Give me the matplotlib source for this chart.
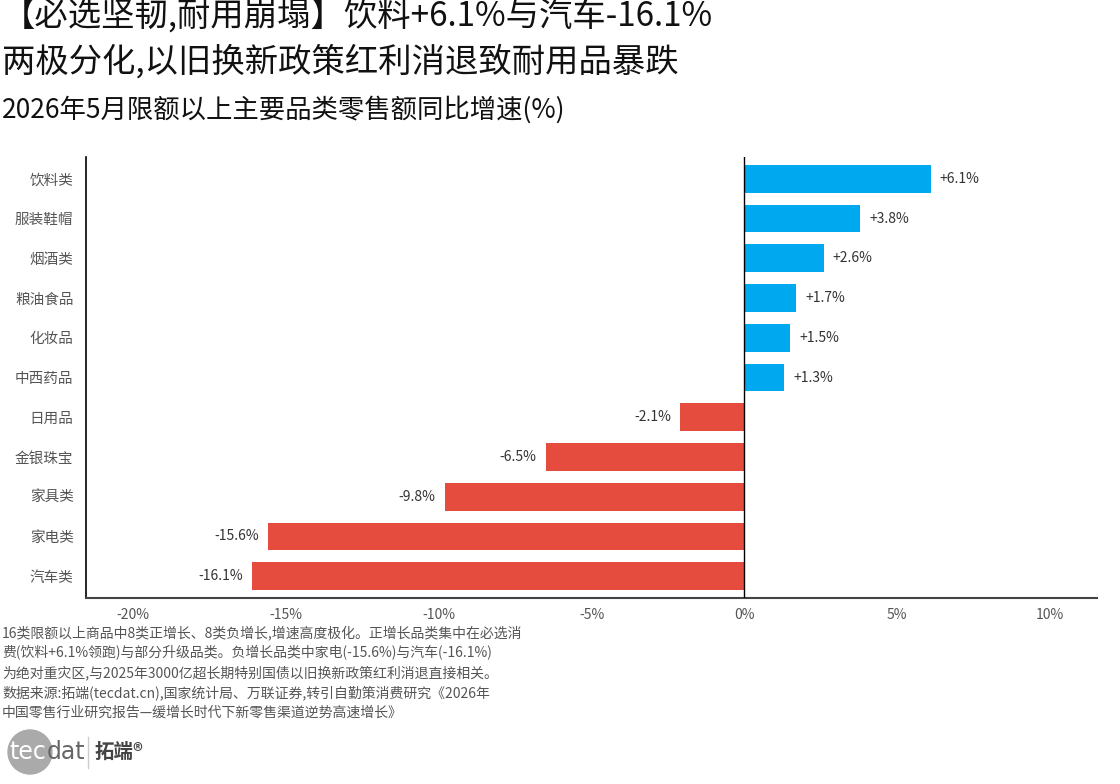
import matplotlib
matplotlib.use("Agg")
import matplotlib.pyplot as plt
from matplotlib.patches import Circle

plt.rcParams['font.family'] = ['Noto Sans CJK SC', 'DejaVu Sans']
plt.rcParams['axes.unicode_minus'] = False

categories = ["饮料类", "服装鞋帽", "烟酒类", "粮油食品", "化妆品", "中西药品",
              "日用品", "金银珠宝", "家具类", "家电类", "汽车类"]
values = [6.1, 3.8, 2.6, 1.7, 1.5, 1.3, -2.1, -6.5, -9.8, -15.6, -16.1]
xticks = [-20, -15, -10, -5, 0, 5, 10]
xticklabels = ["-20%", "-15%", "-10%", "-5%", "0%", "5%", "10%"]

title1 = "【必选坚韧,耐用崩塌】饮料+6.1%与汽车-16.1%"
title2 = "两极分化,以旧换新政策红利消退致耐用品暴跌"
subtitle = "2026年5月限额以上主要品类零售额同比增速(%)"
notes = ["16类限额以上商品中8类正增长、8类负增长,增速高度极化。正增长品类集中在必选消",
         "费(饮料+6.1%领跑)与部分升级品类。负增长品类中家电(-15.6%)与汽车(-16.1%)",
         "为绝对重灾区,与2025年3000亿超长期特别国债以旧换新政策红利消退直接相关。",
         "数据来源:拓端(tecdat.cn),国家统计局、万联证券,转引自勤策消费研究《2026年",
         "中国零售行业研究报告—缓增长时代下新零售渠道逆势高速增长》"]

BLUE = "#00A8F0"
RED = "#E64C3D"

W, H = 1120, 784
fig = plt.figure(figsize=(W / 100, H / 100), dpi=100)
ax = fig.add_axes([86 / W, 1 - 598 / H, (1097 - 86) / W, (598 - 157) / H])

ypos = list(range(len(categories)))
colors = [BLUE if v >= 0 else RED for v in values]
ax.barh(ypos, values, height=0.7, color=colors, zorder=2)
ax.set_ylim(len(categories) - 0.5 + 0.05, -0.5 - 0.05)
ax.set_xlim(-21.55, 11.55)
ax.axvline(0, color="black", lw=1.0, zorder=3)

for y, v in zip(ypos, values):
    lab = f"+{v:.1f}%" if v >= 0 else f"-{abs(v):.1f}%"
    if v >= 0:
        ax.text(v + 0.3, y, lab, ha="left", va="center", fontsize=10, color="#333333")
    else:
        ax.text(v - 0.3, y, lab, ha="right", va="center", fontsize=10, color="#333333")

ax.set_yticks(ypos)
ax.set_yticklabels(categories, fontsize=10.5, color="#555555")
ax.set_xticks(xticks)
ax.set_xticklabels(xticklabels, fontsize=10, color="#555555")
ax.tick_params(axis="both", length=0)
ax.tick_params(axis="y", pad=9)
ax.tick_params(axis="x", pad=7)
for s in ["top", "right"]:
    ax.spines[s].set_visible(False)
ax.spines["left"].set_color("black")
ax.spines["left"].set_linewidth(1.2)
ax.spines["bottom"].set_color("#444444")
ax.spines["bottom"].set_linewidth(1.5)

fig.text(2 / W, 1 - 16 / H, title1, fontsize=24, va="center", ha="left", color="#111111")
fig.text(2 / W, 1 - 62 / H, title2, fontsize=24, va="center", ha="left", color="#111111")
fig.text(2 / W, 1 - 110 / H, subtitle, fontsize=19, va="center", ha="left", color="#111111")

for i, line in enumerate(notes):
    fig.text(2 / W, 1 - (633 + i * 20) / H, line, fontsize=10, va="center", ha="left",
             color="#555555")

# logo
lax = fig.add_axes([0, 0, 1, 1], facecolor="none")
lax.set_xlim(0, W)
lax.set_ylim(H, 0)
lax.axis("off")
lax.add_patch(Circle((30, 752), 22, color="#AAAAAA", zorder=1))
lax.text(9, 752, "tec", fontsize=17, color="white", va="center", ha="left",
         family="DejaVu Sans", zorder=2)
lax.text(47, 752, "dat", fontsize=17, color="#666666", va="center", ha="left",
         family="DejaVu Sans", zorder=2)
lax.plot([88, 88], [737, 768], color="#CCCCCC", lw=1)
lax.text(95, 752, "拓端®", fontsize=14, color="#444444", va="center", ha="left",
         fontweight="bold")

fig.savefig("out.png", dpi=100)
